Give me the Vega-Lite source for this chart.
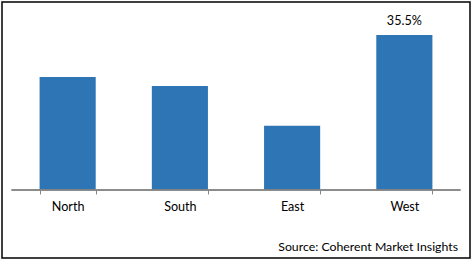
{
  "$schema": "https://vega.github.io/schema/vega-lite/v6.json",
  "width": 468,
  "height": 256,
  "autosize": "none",
  "padding": {"left": 2, "top": 2, "right": 4, "bottom": 3},
  "background": "white",
  "config": {"view": {"stroke": "#000000", "strokeWidth": 1.5}, "font": "Lato"},
  "title": {"text": "Source: Coherent Market Insights", "orient": "bottom", "anchor": "end", "offset": -17, "dx": -12, "fontSize": 12.3, "fontWeight": "normal", "color": "#000000", "font": "Lato"},
  "data": {"values": [
    {"region": "North", "share": 25.9, "label": ""},
    {"region": "South", "share": 23.8, "label": ""},
    {"region": "East", "share": 14.7, "label": ""},
    {"region": "West", "share": 35.5, "label": "35.5%"}
  ]},
  "encoding": {
    "x": {"field": "region", "type": "nominal", "sort": null,
      "scale": {"paddingInner": 0.5, "paddingOuter": 0.335},
      "axis": {"title": null, "offset": -68, "tickBand": "extent", "domain": false, "tickColor": "#868686", "tickSize": 4, "labelFontSize": 12.6, "labelColor": "#000000", "labelPadding": 6, "labelAngle": 0, "grid": false}}
  },
  "layer": [
    {"mark": {"type": "bar", "color": "#2E75B6"},
     "encoding": {"y": {"field": "share", "type": "quantitative", "scale": {"domain": [-15.57, 43.06], "nice": false, "zero": false}, "axis": null}, "y2": {"datum": 0}}},
    {"mark": {"type": "text", "dy": -7, "fontSize": 12.6, "color": "#000000", "baseline": "bottom"},
     "encoding": {"y": {"field": "share", "type": "quantitative"}, "text": {"field": "label"}}},
    {"mark": {"type": "rule", "color": "#868686", "strokeWidth": 1},
     "encoding": {"x": {"datum": "North", "bandPosition": -0.5}, "x2": {"datum": "West", "bandPosition": 1.5}, "y": {"datum": 0}}}
  ]
}
